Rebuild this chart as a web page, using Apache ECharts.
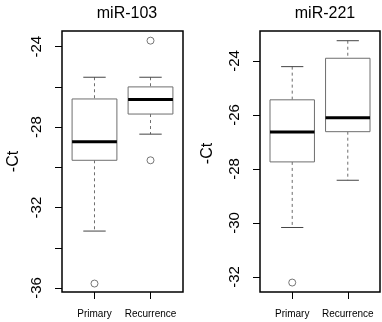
<!DOCTYPE html>
<html><head><meta charset="utf-8">
<script src="https://cdn.jsdelivr.net/npm/echarts@6/dist/echarts.min.js"></script>
<style>html,body{margin:0;padding:0;background:#fff}#c{width:382px;height:322px}</style>
</head><body><div id="c"></div>
<script>
const categories = ['Primary', 'Recurrence'];
const panelTitles = ['miR-103', 'miR-221'];
// [lower whisker, Q1, median, Q3, upper whisker]
const mir103Primary = [-33.17, -29.65, -28.73, -26.6, -25.52];
const mir103Recurrence = [-28.35, -27.35, -26.63, -26.0, -25.52];
const mir103Outliers = [[1, -35.78], [2, -23.7], [2, -29.65]];
const mir221Primary = [-30.17, -27.74, -26.63, -25.44, -24.21];
const mir221Recurrence = [-28.42, -26.62, -26.1, -23.9, -23.25];
const mir221Outliers = [[1, -32.21]];
const ticks103 = [-36, -34, -32, -30, -28, -26, -24];
const labels103 = [-36, -32, -28, -24];
const ticks221 = [-32, -30, -28, -26, -24];
const labels221 = [-32, -30, -28, -26, -24];

const FONT = 'Liberation Sans';
const chart = echarts.init(document.getElementById('c'));

function boxItem(params, api) {
  const x = api.value(0);
  const lo = api.value(1), q1 = api.value(2), med = api.value(3), q3 = api.value(4), hi = api.value(5);
  const halfBox = api.size([0.4, 0])[0];
  const halfCap = api.size([0.2, 0])[0];
  const pLo = api.coord([x, lo]), pQ1 = api.coord([x, q1]), pMed = api.coord([x, med]);
  const pQ3 = api.coord([x, q3]), pHi = api.coord([x, hi]);
  const cx = pMed[0];
  const grey = '#6e6e6e';
  return {
    type: 'group',
    children: [
      { type: 'line', shape: { x1: cx, y1: pHi[1], x2: cx, y2: pQ3[1] }, style: { stroke: grey, lineWidth: 1, lineDash: [3, 3] } },
      { type: 'line', shape: { x1: cx, y1: pQ1[1], x2: cx, y2: pLo[1] }, style: { stroke: grey, lineWidth: 1, lineDash: [3, 3] } },
      { type: 'line', shape: { x1: cx - halfCap, y1: pHi[1], x2: cx + halfCap, y2: pHi[1] }, style: { stroke: '#444', lineWidth: 1 } },
      { type: 'line', shape: { x1: cx - halfCap, y1: pLo[1], x2: cx + halfCap, y2: pLo[1] }, style: { stroke: '#444', lineWidth: 1 } },
      { type: 'rect', shape: { x: cx - halfBox, y: pQ3[1], width: 2 * halfBox, height: pQ1[1] - pQ3[1] }, style: { fill: '#fff', stroke: grey, lineWidth: 1 } },
      { type: 'line', shape: { x1: cx - halfBox, y1: pMed[1], x2: cx + halfBox, y2: pMed[1] }, style: { stroke: '#000', lineWidth: 3 } }
    ]
  };
}

function yAxis(gridIndex, min, max, ticks, labels, nameGap, namePad) {
  return {
    type: 'value', gridIndex, min, max,
    name: '-Ct', nameLocation: 'middle', nameRotate: 90, nameGap,
    nameTextStyle: { fontFamily: FONT, fontSize: 16, color: '#000', padding: namePad },
    axisLine: { show: false },
    axisTick: { show: true, length: 7, lineStyle: { color: '#000' }, customValues: ticks },
    axisLabel: { show: true, rotate: 90, fontFamily: FONT, fontSize: 15, color: '#000', margin: 18, customValues: labels },
    splitLine: { show: false }
  };
}
function xAxis(gridIndex) {
  return {
    type: 'value', gridIndex, min: 0.42, max: 2.58,
    axisLine: { show: false },
    axisTick: { show: true, length: 7, lineStyle: { color: '#000' }, customValues: [1, 2] },
    axisLabel: { show: true, fontFamily: FONT, fontSize: 10, color: '#000', margin: 17, customValues: [1, 2],
      formatter: v => categories[Math.round(v) - 1] || '' },
    splitLine: { show: false }
  };
}

chart.setOption({
  animation: false,
  backgroundColor: '#fff',
  title: [
    { text: panelTitles[0], left: 122, top: 1, textAlign: 'center', textStyle: { fontFamily: FONT, fontSize: 16, fontWeight: 'normal', color: '#000' } },
    { text: panelTitles[1], left: 320, top: 1, textAlign: 'center', textStyle: { fontFamily: FONT, fontSize: 16, fontWeight: 'normal', color: '#000' } }
  ],
  grid: [
    { left: 62, top: 31, width: 121, height: 261, show: true, borderColor: '#000', borderWidth: 1.5, backgroundColor: 'transparent' },
    { left: 260, top: 31, width: 120, height: 261, show: true, borderColor: '#000', borderWidth: 1.5, backgroundColor: 'transparent' }
  ],
  xAxis: [xAxis(0), xAxis(1)],
  yAxis: [
    yAxis(0, -36.2, -23.22, ticks103, labels103, 40, [0, 0, 0, 0]),
    yAxis(1, -32.56, -22.89, ticks221, labels221, 44, [0, 0, 0, 16])
  ],
  series: [
    { type: 'custom', xAxisIndex: 0, yAxisIndex: 0, renderItem: boxItem,
      data: [[1, ...mir103Primary], [2, ...mir103Recurrence]] },
    { type: 'scatter', xAxisIndex: 0, yAxisIndex: 0, data: mir103Outliers, symbol: 'circle', symbolSize: 7,
      itemStyle: { color: '#fff', borderColor: '#555', borderWidth: 1 } },
    { type: 'custom', xAxisIndex: 1, yAxisIndex: 1, renderItem: boxItem,
      data: [[1, ...mir221Primary], [2, ...mir221Recurrence]] },
    { type: 'scatter', xAxisIndex: 1, yAxisIndex: 1, data: mir221Outliers, symbol: 'circle', symbolSize: 7,
      itemStyle: { color: '#fff', borderColor: '#555', borderWidth: 1 } }
  ]
});
</script></body></html>
